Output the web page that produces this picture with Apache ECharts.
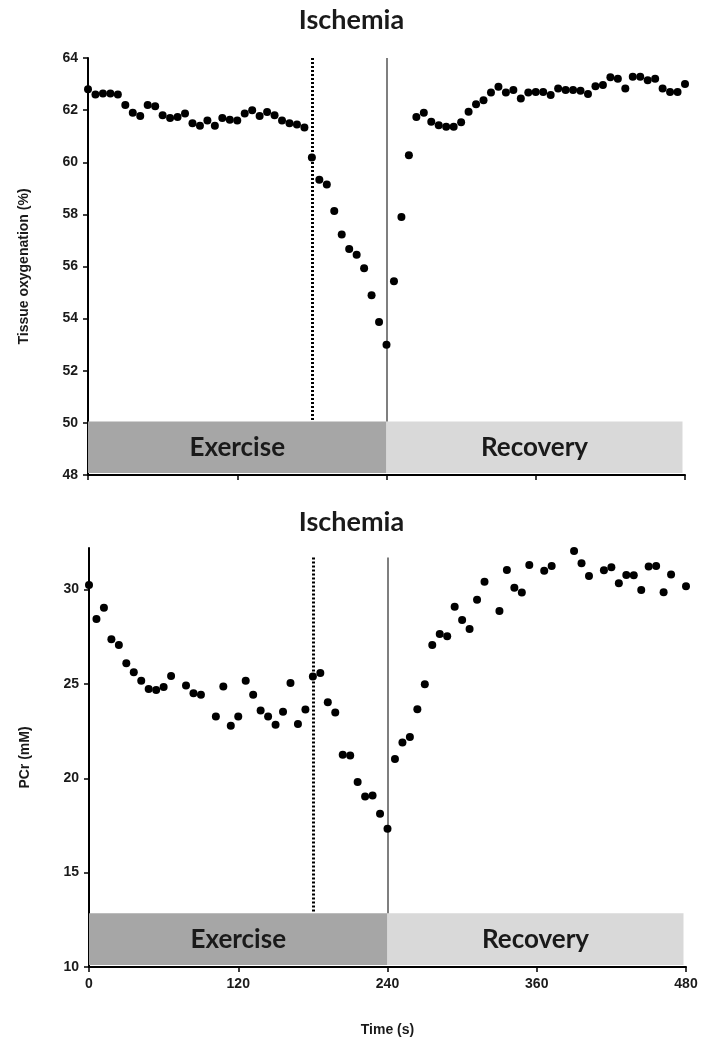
<!DOCTYPE html>
<html>
<head>
<meta charset="utf-8">
<script src="https://cdn.jsdelivr.net/npm/echarts@6/dist/echarts.min.js"></script>
<style>html,body{margin:0;padding:0;background:#fff;}#c{width:703px;height:1042px;}</style>
</head>
<body>
<div id="c"></div>
<script>
// Top panel: tissue oxygenation (%)
const oxyTime = [0,6,12,18,24,30,36,42,48,54,60,66,72,78,84,90,96,102,108,114,120,126,132,138,144,150,156,162,168,174,
  180,186,192,198,204,210,216,222,228,234,240,
  246,252,258,264,270,276,282,288,294,300,306,312,318,324,330,336,342,348,354,360,366,372,378,384,390,396,402,408,414,420,426,432,438,444,450,456,462,468,474,480];
const oxyValue = [62.8,62.6,62.64,62.64,62.6,62.2,61.9,61.77,62.2,62.15,61.8,61.7,61.74,61.87,61.5,61.4,61.6,61.4,61.7,61.63,61.6,61.87,62.0,61.77,61.93,61.8,61.6,61.5,61.45,61.33,
  60.18,59.33,59.15,58.13,57.23,56.67,56.45,55.93,54.9,53.87,53.0,
  55.43,57.9,60.27,61.74,61.9,61.55,61.42,61.36,61.36,61.53,61.94,62.23,62.38,62.68,62.9,62.68,62.77,62.45,62.68,62.7,62.7,62.58,62.83,62.77,62.77,62.74,62.62,62.92,62.96,63.26,63.2,62.83,63.28,63.28,63.15,63.2,62.83,62.7,62.7,63.0];

// Bottom panel: PCr (mM)
const pcrTime = [0,6,12,18,24,30,36,42,48,54,60,66,78,84,90,102,108,114,120,126,132,138,144,150,156,162,168,174,
  180,186,192,198,204,210,216,222,228,234,240,
  246,252,258,264,270,276,282,288,294,300,306,312,318,330,336,342,348,354,366,372,390,396,402,414,420,426,432,438,444,450,456,462,468,480];
const pcrValue = [30.24,28.44,29.04,27.37,27.06,26.1,25.62,25.17,24.73,24.68,24.83,25.42,24.91,24.5,24.42,23.27,24.86,22.78,23.27,25.17,24.42,23.59,23.27,22.83,23.53,25.05,22.88,23.64,
  25.39,25.58,24.03,23.48,21.24,21.21,19.8,19.04,19.09,18.12,17.33,
  21.02,21.9,22.18,23.66,24.98,27.06,27.64,27.52,29.09,28.39,27.91,29.46,30.41,28.86,31.03,30.1,29.84,31.3,31.0,31.24,32.04,31.39,30.72,31.02,31.18,30.33,30.77,30.75,29.97,31.22,31.24,29.85,30.8,30.18];

const xTicks = [0,120,240,360,480];
const oxyTicks = [48,50,52,54,56,58,60,62,64];
const pcrTicks = [10,15,20,25,30];
const ischemiaStart = 180, exerciseEnd = 240, recoveryEnd = 478;
const titleText = 'Ischemia';
const phaseLabels = ['Exercise', 'Recovery'];
const yNames = ['Tissue oxygenation (%)', 'PCr (mM)'];
const xName = 'Time (s)';

const tickFont = {fontFamily:'Liberation Sans, Arial, sans-serif', fontWeight:'bold', fontSize:14, color:'#1a1a1a'};
const boxFont = {fontFamily:'Lato, "Open Sans", sans-serif', fontWeight:'bold', fontSize:26, color:'#1a1a1a'};
const titleFont = {fontFamily:'Lato, "Open Sans", sans-serif', fontWeight:'bold', fontSize:27, color:'#1a1a1a'};

function xAxis(gridIndex, showLabels) {
  return {
    type:'value', gridIndex, min:0, max:480, interval:120,
    axisLine:{show:true, onZero:false, lineStyle:{color:'#000', width:2}},
    axisTick:{show:true, inside:false, length:5, lineStyle:{color:'#000', width:1.5}, customValues:xTicks},
    axisLabel:Object.assign({show:showLabels, margin:10, customValues:xTicks}, tickFont),
    splitLine:{show:false},
    name: showLabels ? xName : '', nameLocation:'middle', nameGap:56,
    nameTextStyle:{fontFamily:'Liberation Sans, Arial, sans-serif', fontWeight:'bold', fontSize:14, color:'#1a1a1a'}
  };
}
function yAxis(gridIndex, min, max, interval, ticks, name) {
  return {
    type:'value', gridIndex, min, max, interval,
    axisLine:{show:true, lineStyle:{color:'#000', width:2}},
    axisTick:{show:true, inside:false, length:5, lineStyle:{color:'#000', width:1.5}, customValues:ticks},
    axisLabel:Object.assign({margin:10, customValues:ticks}, tickFont),
    splitLine:{show:false},
    name, nameLocation:'middle', nameGap:57, nameRotate:90,
    nameTextStyle:{fontFamily:'Liberation Sans, Arial, sans-serif', fontWeight:'bold', fontSize:14, color:'#1a1a1a'}
  };
}
function panelSeries(idx, times, values, yTop, yBoxBottom, yBoxTop, yLineBottom) {
  return {
    type:'scatter', xAxisIndex:idx, yAxisIndex:idx,
    data: times.map((t,i)=>[t, values[i]]),
    symbol:'circle', symbolSize:8,
    itemStyle:{color:'#000', opacity:1},
    silent:true, z:5,
    markArea:{
      silent:true,
      data:[
        [{xAxis:0, yAxis:yBoxBottom, itemStyle:{color:'#a6a6a6', opacity:1}, label:Object.assign({show:true, position:'inside'}, boxFont), name:phaseLabels[0]},
         {xAxis:exerciseEnd, yAxis:yBoxTop}],
        [{xAxis:exerciseEnd, yAxis:yBoxBottom, itemStyle:{color:'#d9d9d9', opacity:1}, label:Object.assign({show:true, position:'inside'}, boxFont), name:phaseLabels[1]},
         {xAxis:recoveryEnd, yAxis:yBoxTop}]
      ]
    },
    markLine:{
      silent:true, symbol:['none','none'], label:{show:false},
      data:[
        [{coord:[ischemiaStart, yTop], lineStyle:{color:'#000', width:3, type:[2,2]}}, {coord:[ischemiaStart, yBoxTop]}],
        [{coord:[exerciseEnd, yTop], lineStyle:{color:'#7f7f7f', width:2, type:'solid'}}, {coord:[exerciseEnd, yLineBottom]}]
      ]
    }
  };
}

const chart = echarts.init(document.getElementById('c'), null, {renderer:'canvas'});
chart.setOption({
  animation:false,
  backgroundColor:'#fff',
  title:[
    {text:titleText, left:'center', top:7, padding:0, textStyle:titleFont},
    {text:titleText, left:'center', top:509, padding:0, textStyle:titleFont}
  ],
  grid:[
    {left:88, right:18, top:58, height:417},
    {left:89, right:17, top:548, height:419}
  ],
  xAxis:[xAxis(0,false), xAxis(1,true)],
  yAxis:[
    yAxis(0, 48, 64, 2, oxyTicks, yNames[0]),
    yAxis(1, 10, 32.2, 5, pcrTicks, yNames[1])
  ],
  series:[
    panelSeries(0, oxyTime, oxyValue, 64, 48.08, 50.05, 50.05),
    panelSeries(1, pcrTime, pcrValue, 31.7, 10.1, 12.85, 12.85)
  ]
});
</script>
</body>
</html>
